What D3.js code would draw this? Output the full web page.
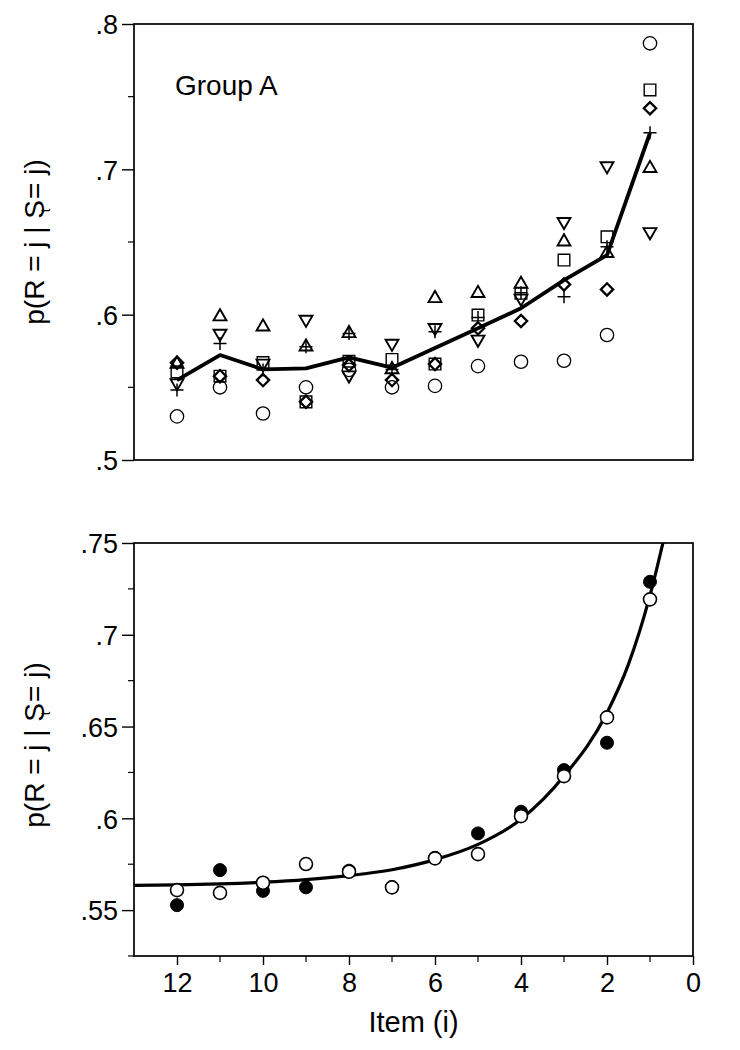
<!DOCTYPE html>
<html><head><meta charset="utf-8">
<script src="https://cdn.jsdelivr.net/npm/d3@7"></script>
<style>
html,body{margin:0;padding:0;background:#fff;}
text{font-family:"Liberation Sans",Arial,sans-serif;fill:#000;}
</style></head>
<body>
<svg id="chart" width="740" height="1050"></svg>
<script>
// ---------- data ----------
const items = [12, 11, 10, 9, 8, 7, 6, 5, 4, 3, 2, 1];
// Group A (top panel), six individual series + mean line
const grpCircle   = [.530, .550, .532, .550, .562, .550, .551, .5646, .5676, .5683, .586, .7867];
const grpSquare   = [.5607, .5577, .567, .540, .568, .5692, .566, .5997, .6147, .6376, .6536, .7546];
const grpDiamond  = [.567, .5577, .555, .540, .5653, .555, .566, .5906, .5956, .6208, .6174, .742];
const grpTriUp    = [.566, .5986, .5917, .5779, .5871, .5623, .6112, .6147, .621, .6502, .6422, .7007];
const grpTriDown  = [.553, .5871, .5665, .5967, .5584, .5802, .591, .583, .6112, .664, .7023, .657];
const grpPlus     = [.5481, .5802, .5619, .578, .587, .5623, .5882, .598, .615, .6123, .6467, .7252];
const grpMean     = [.555, .5722, .5623, .563, .5706, .5635, .577, .5906, .6044, .6238, .641, .725];
// bottom panel
const filledVals  = [.5527, .5718, .5605, .5624, .5715, .5625, .5785, .5918, .6036, .6263, .6412, .7289];
const openVals    = [.5609, .5594, .5649, .5751, .5709, .5624, .5782, .5805, .6012, .6230, .6550, .7193];
// fitted curve
const curveX = [13, 12, 11, 10, 9, 8, 7, 6, 5, 4, 3, 2, 1.5, 1, 0.6];
const curveY = [.5635, .5638, .5643, .5652, .5666, .5688, .5720, .5775, .5858, .5995, .6230, .6575, .6840, .7215, .7600];
// tick labels
const topYTicks = [.5, .6, .7, .8];
const topYMinor = [.55, .65, .75];
const botYTicks = [.55, .6, .65, .7, .75];
const botYMinor = [.525, .575, .625, .675, .725];
const xMajor = [12, 10, 8, 6, 4, 2, 0];
const xMinor = [11, 9, 7, 5, 3, 1];

const svg = d3.select("#chart");
const L = 134, R = 693;
const x = d3.scaleLinear().domain([13, 0]).range([L, R]);
const yTop = d3.scaleLinear().domain([.5, .8]).range([460, 24]);
const yBot = d3.scaleLinear().domain([.525, .75]).range([956, 543]);

const fmt = v => String(v).replace(/^0/, "");

function frame(y) {
  const [y0, y1] = y.range();
  svg.append("rect").attr("x", L).attr("y", y1).attr("width", R - L).attr("height", y0 - y1)
    .attr("fill", "none").attr("stroke", "#000").attr("stroke-width", 1.7);
}
function yAxis(y, major, minor) {
  const g = svg.append("g").attr("transform", `translate(${L},0)`);
  const ax = d3.axisLeft(y).tickValues(major).tickSize(12).tickFormat(fmt).tickPadding(4);
  g.call(ax);
  g.select(".domain").remove();
  g.selectAll(".tick line").attr("stroke", "#000").attr("stroke-width", 1.4);
  g.selectAll(".tick text").attr("font-size", 27).attr("dy", "0.36em")
    .style("font-family", '"Liberation Sans",Arial,sans-serif');
  g.selectAll(".minor").data(minor).enter().append("line").attr("class", "minor")
    .attr("x1", -6).attr("x2", 0).attr("y1", d => y(d)).attr("y2", d => y(d))
    .attr("stroke", "#000").attr("stroke-width", 1.2);
}
function yLabel(cy) {
  const t = svg.append("text").attr("transform", `translate(44,${cy}) rotate(-90)`)
    .attr("text-anchor", "middle").attr("font-size", 28);
  t.append("tspan").text("p(R = j | S");
  t.append("tspan").attr("font-size", 13).attr("dx", "-0.95em").attr("dy", "0.45em").text("t");
  t.append("tspan").attr("dx", "0.35em").attr("dy", "-0.22em").text("= j)");
}

// ---------- top panel ----------
frame(yTop);
yAxis(yTop, topYTicks, topYMinor);
yLabel(242);
svg.append("text").attr("x", 175).attr("y", 95).attr("font-size", 28).text("Group A");

const plusType = { draw(ctx, size) { const r = Math.sqrt(size) / 2; ctx.moveTo(-r, 0); ctx.lineTo(r, 0); ctx.moveTo(0, -r); ctx.lineTo(0, r); } };
const triDownType = { draw(ctx, size) {
  const s = Math.sqrt(size / (Math.sqrt(3) / 4)); const h = s * Math.sqrt(3) / 2;
  ctx.moveTo(-s / 2, -h / 3); ctx.lineTo(s / 2, -h / 3); ctx.lineTo(0, 2 * h / 3); ctx.closePath(); } };
const triUpType = { draw(ctx, size) {
  const s = Math.sqrt(size / (Math.sqrt(3) / 4)); const h = s * Math.sqrt(3) / 2;
  ctx.moveTo(-s / 2, h / 3); ctx.lineTo(s / 2, h / 3); ctx.lineTo(0, -2 * h / 3); ctx.closePath(); } };
const diamondType = { draw(ctx, size) { const r = Math.sqrt(size) / 2;
  ctx.moveTo(0, -r); ctx.lineTo(r, 0); ctx.lineTo(0, r); ctx.lineTo(-r, 0); ctx.closePath(); } };

const seriesTop = [
  { vals: grpCircle,  type: d3.symbolCircle, size: 140, sw: 1.3 },
  { vals: grpSquare,  type: d3.symbolSquare, size: 135, sw: 1.4 },
  { vals: grpTriDown, type: triDownType, size: 72, sw: 1.9 },
  { vals: grpTriUp,   type: triUpType,   size: 72, sw: 1.9 },
  { vals: grpDiamond, type: diamondType, size: 150, sw: 2.3 },
  { vals: grpPlus,    type: plusType,    size: 170, sw: 1.5 }
];
seriesTop.forEach(s => {
  svg.append("g").selectAll("path").data(items.map((it, i) => [it, s.vals[i]])).enter().append("path")
    .attr("d", d3.symbol().type(s.type).size(s.size))
    .attr("transform", d => `translate(${x(d[0])},${yTop(d[1])})`)
    .attr("fill", "none").attr("stroke", "#000").attr("stroke-width", s.sw);
});
svg.append("path").datum(items.map((it, i) => [it, grpMean[i]]))
  .attr("d", d3.line().x(d => x(d[0])).y(d => yTop(d[1])))
  .attr("fill", "none").attr("stroke", "#000").attr("stroke-width", 3.8).attr("stroke-linejoin", "round");

// ---------- bottom panel ----------
frame(yBot);
yAxis(yBot, botYTicks, botYMinor);
yLabel(745);

const gx = svg.append("g").attr("transform", "translate(0,956)");
gx.call(d3.axisBottom(x).tickValues(xMajor).tickSize(9).tickPadding(8).tickFormat(d3.format("d")));
gx.select(".domain").remove();
gx.selectAll(".tick line").attr("stroke", "#000").attr("stroke-width", 1.4);
gx.selectAll(".tick text").attr("font-size", 27).attr("dy", "0.72em")
  .style("font-family", '"Liberation Sans",Arial,sans-serif');
gx.selectAll(".minor").data(xMinor).enter().append("line").attr("class", "minor")
  .attr("x1", d => x(d)).attr("x2", d => x(d)).attr("y1", 0).attr("y2", 6)
  .attr("stroke", "#000").attr("stroke-width", 1.2);
svg.append("text").attr("x", (L + R) / 2).attr("y", 1032).attr("text-anchor", "middle")
  .attr("font-size", 29).text("Item (i)");

svg.append("clipPath").attr("id", "clipBot").append("rect")
  .attr("x", L).attr("y", 543).attr("width", R - L).attr("height", 956 - 543);
svg.append("path").datum(curveX.map((v, i) => [v, curveY[i]]))
  .attr("clip-path", "url(#clipBot)")
  .attr("d", d3.line().x(d => x(d[0])).y(d => yBot(d[1])).curve(d3.curveMonotoneX))
  .attr("fill", "none").attr("stroke", "#000").attr("stroke-width", 3.2);

svg.append("g").selectAll("circle").data(items.map((it, i) => [it, filledVals[i]])).enter().append("circle")
  .attr("cx", d => x(d[0])).attr("cy", d => yBot(d[1])).attr("r", 6.5)
  .attr("fill", "#000").attr("stroke", "#000").attr("stroke-width", 1);
svg.append("g").selectAll("circle").data(items.map((it, i) => [it, openVals[i]])).enter().append("circle")
  .attr("cx", d => x(d[0])).attr("cy", d => yBot(d[1])).attr("r", 6.5)
  .attr("fill", "#fff").attr("stroke", "#000").attr("stroke-width", 1.6);
</script>
</body></html>
